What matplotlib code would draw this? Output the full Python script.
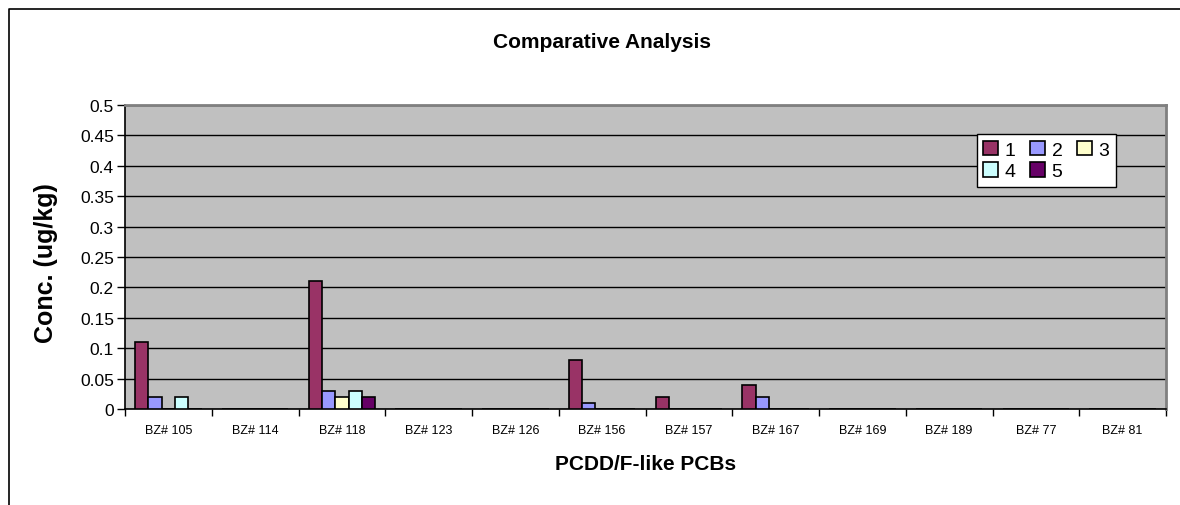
import matplotlib
matplotlib.use("Agg")
import matplotlib.pyplot as plt
from matplotlib.lines import Line2D
from matplotlib.ticker import FuncFormatter, FixedLocator
import numpy as np

plt.rcParams['font.family'] = ['Liberation Sans', 'DejaVu Sans']

categories = ["BZ# 105", "BZ# 114", "BZ# 118", "BZ# 123", "BZ# 126", "BZ# 156",
              "BZ# 157", "BZ# 167", "BZ# 169", "BZ# 189", "BZ# 77", "BZ# 81"]
series_names = ["1", "2", "3", "4", "5"]
s1 = [0.11, 0, 0.21, 0, 0, 0.08, 0.02, 0.04, 0, 0, 0, 0]
s2 = [0.02, 0, 0.03, 0, 0, 0.01, 0, 0.02, 0, 0, 0, 0]
s3 = [0, 0, 0.02, 0, 0, 0, 0, 0, 0, 0, 0, 0]
s4 = [0.02, 0, 0.03, 0, 0, 0, 0, 0, 0, 0, 0, 0]
s5 = [0, 0, 0.02, 0, 0, 0, 0, 0, 0, 0, 0, 0]
series = [s1, s2, s3, s4, s5]
colors = ["#993366", "#9999FF", "#FFFFCC", "#CCFFFF", "#660066"]

W, H = 1180, 506
fig = plt.figure(figsize=(W / 100, H / 100), dpi=100)
ax = fig.add_axes([125 / W, 1 - 410 / H, (1166 - 125) / W, (410 - 106) / H])
ax.set_facecolor("#C0C0C0")

n = len(series)
x = np.arange(len(categories))
bw = 1 / 6.5
handles = []
for i, (vals, c, name) in enumerate(zip(series, colors, series_names)):
    offs = (i - (n - 1) / 2) * bw
    b = ax.bar(x + offs, vals, width=bw, color=c, edgecolor="black", linewidth=1.2,
               label=name, zorder=3)
    handles.append(b)

ax.set_xlim(-0.5, len(categories) - 0.5)
ax.set_ylim(0, 0.5)
ax.set_yticks(np.arange(0, 0.501, 0.05))
ax.yaxis.set_major_formatter(FuncFormatter(lambda v, p: "%g" % round(v, 2)))
ax.set_axisbelow(True)
ax.yaxis.grid(True, color="black", linewidth=1.0)

ax.set_xticks(x)
ax.set_xticklabels(categories)
ax.xaxis.set_minor_locator(FixedLocator(np.arange(-0.5, len(categories), 1.0)))
ax.tick_params(axis="x", which="major", length=0, pad=11, labelsize=9)
ax.tick_params(axis="x", which="minor", length=5, width=1, direction="out", color="black")
ax.tick_params(axis="y", which="major", length=6, width=1, direction="out",
               labelsize=12.5, pad=2)

for s in ["top", "right"]:
    ax.spines[s].set_color("#808080")
    ax.spines[s].set_linewidth(2)
for s in ["left", "bottom"]:
    ax.spines[s].set_color("black")
    ax.spines[s].set_linewidth(1.2)

ax.set_xlabel("PCDD/F-like PCBs", fontsize=15, fontweight="bold", labelpad=13)
fig.text(46 / W, 1 - 263 / H, "Conc. (ug/kg)", fontsize=18, fontweight="bold",
         rotation=90, ha="center", va="center")
fig.text(602 / W, 1 - 43 / H, "Comparative Analysis", fontsize=15, fontweight="bold",
         ha="center", va="center")

order = [0, 3, 1, 4, 2]
leg = ax.legend([handles[i] for i in order], [series_names[i] for i in order],
                ncol=3, loc="upper left", bbox_to_anchor=(0.818, 0.905),
                frameon=True, fancybox=False, framealpha=1, edgecolor="black",
                fontsize=14, handlelength=0.75, handleheight=0.75, handletextpad=0.35,
                columnspacing=0.75, labelspacing=0.2, borderpad=0.35, borderaxespad=0)
leg.get_frame().set_linewidth(1.0)
leg.set_zorder(5)

# chart area border
fig.add_artist(Line2D([9 / W, 9 / W, 1.0], [0, 1 - 10 / H, 1 - 10 / H],
                      transform=fig.transFigure, color="black", linewidth=1.2))

fig.savefig("out.png", dpi=100)
